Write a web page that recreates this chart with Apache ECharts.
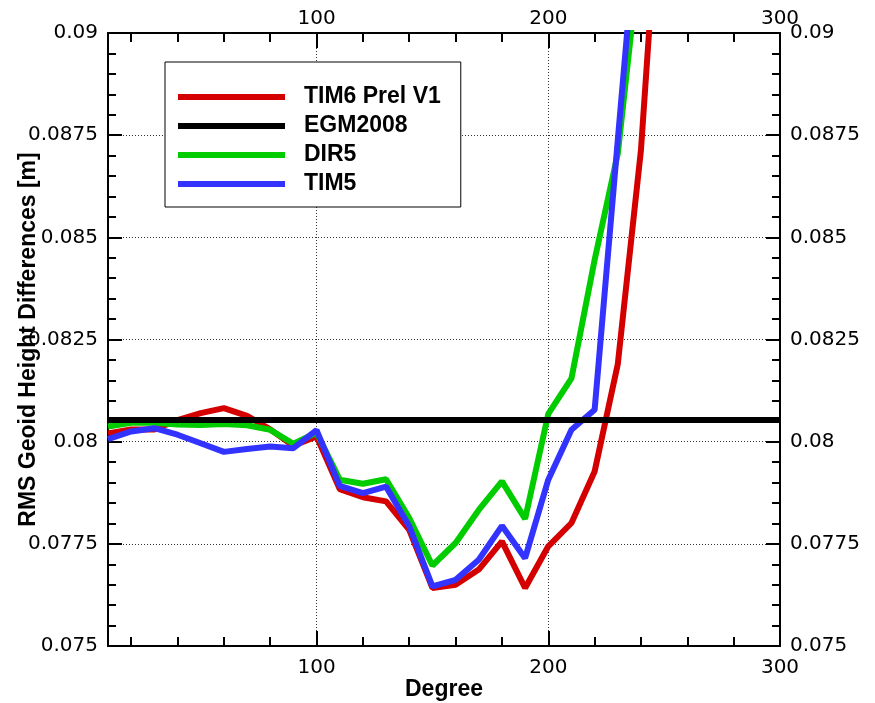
<!DOCTYPE html>
<html lang="en">
<head>
    <meta charset="UTF-8">
    <title>RMS Geoid Height Differences</title>
    <script src="https://cdn.jsdelivr.net/npm/echarts@6/dist/echarts.min.js"></script>
</head>
<body style="margin:0;background:#fff;">
<div id="main" style="width:875px;height:703px;"></div>
<script>
    // degree of the models, every 10
    var degrees = [10, 20, 30, 40, 50, 60, 70, 80, 90, 100, 110, 120, 130,
        140, 150, 160, 170, 180, 190, 200, 210, 220, 230, 240, 250];
    var tim6PrelV1 = [0.0802, 0.0803, 0.0803, 0.08053, 0.0807, 0.08082, 0.08063, 0.0803, 0.0799, 0.08013,
        0.07884, 0.07864, 0.07854, 0.07784, 0.07642, 0.0765, 0.07687, 0.07756, 0.07642, 0.07744,
        0.07801, 0.07927, 0.0819, 0.08714, 0.0954];
    var dir5 = [0.08037, 0.08046, 0.08046, 0.08042, 0.08041, 0.08043, 0.0804, 0.08029, 0.07995, 0.08022,
        0.07907, 0.07897, 0.07908, 0.07813, 0.07697, 0.07752, 0.07833, 0.07903, 0.07811, 0.08068,
        0.08155, 0.08445, 0.08705, 0.0922, null];
    var tim5 = [0.08006, 0.08025, 0.08033, 0.08017, 0.07996, 0.07975, 0.07982, 0.07988, 0.07984, 0.08028,
        0.07892, 0.07874, 0.0789, 0.07793, 0.07646, 0.07662, 0.07711, 0.07794, 0.07715, 0.07907,
        0.08029, 0.08078, 0.08738, 0.0939, null];
    // EGM2008 is a flat reference line
    var egmDegrees = [10, 300];
    var egm2008 = [0.08053, 0.08053];

    var xMajor = [100, 200, 300];
    var xMinor = [20, 40, 60, 80, 120, 140, 160, 180, 220, 240, 260, 280];

    function pairs(xs, ys) {
        var out = [];
        for (var i = 0; i < xs.length; i++) {
            if (ys[i] != null) out.push([xs[i], ys[i]]);
        }
        return out;
    }

    var tickFont = {fontFamily: 'DejaVu Sans', fontSize: 20, color: '#000'};
    var boldFont = {fontFamily: 'Liberation Sans', fontWeight: 'bold', fontSize: 23, color: '#000'};
    var blackLine = {color: '#000', width: 2};
    var gridLine = {color: '#333', width: 1, type: [1, 2]};

    function xAxisOf(pos, ticks, len, major, margin) {
        return {
            type: 'value', position: pos, min: 10, max: 300,
            axisLine: {show: major, onZero: false, lineStyle: blackLine},
            axisTick: {show: true, inside: true, length: len, customValues: ticks, lineStyle: blackLine},
            axisLabel: major ? Object.assign({customValues: xMajor, margin: margin}, tickFont) : {show: false},
            splitLine: {show: false}
        };
    }

    var bottomAxis = xAxisOf('bottom', [100, 200], 15, true, 12);
    bottomAxis.splitLine = {show: true, lineStyle: gridLine};
    bottomAxis.name = 'Degree';
    bottomAxis.nameLocation = 'middle';
    bottomAxis.nameGap = 32;
    bottomAxis.nameMoveOverlap = false;
    bottomAxis.nameTextStyle = boldFont;

    function yAxisOf(pos) {
        return {
            type: 'value', position: pos, min: 0.075, max: 0.09, interval: 0.0025,
            axisLine: {show: true, onZero: false, lineStyle: blackLine},
            axisTick: {show: true, inside: true, length: 14, lineStyle: blackLine},
            minorTick: {show: true, splitNumber: 5, length: 8, lineStyle: blackLine},
            axisLabel: Object.assign({
                margin: 10,
                formatter: function (v) { return String(+v.toFixed(5)); }
            }, tickFont),
            splitLine: {show: false}
        };
    }

    var leftAxis = yAxisOf('left');
    leftAxis.splitLine = {show: true, lineStyle: gridLine};
    leftAxis.name = 'RMS Geoid Height Differences [m]';
    leftAxis.nameLocation = 'middle';
    leftAxis.nameGap = 68;
    leftAxis.nameMoveOverlap = false;
    leftAxis.nameTextStyle = boldFont;

    var myChart = echarts.init(document.getElementById('main'));
    var option = {
        animation: false,
        backgroundColor: '#fff',
        grid: {left: 108, right: 95, top: 33, bottom: 57, containLabel: false, outerBoundsMode: 'none'},
        legend: {
            data: ['TIM6 Prel V1', 'EGM2008', 'DIR5', 'TIM5'],
            orient: 'vertical', left: 165, top: 62,
            padding: [23, 20, 11, 13], itemGap: 5,
            itemWidth: 107, itemHeight: 6, icon: 'rect',
            itemStyle: {borderWidth: 0},
            backgroundColor: '#fff', borderColor: '#000', borderWidth: 1, borderRadius: 0,
            selectedMode: false,
            textStyle: Object.assign({lineHeight: 24, padding: [0, 0, 0, 14]}, boldFont)
        },
        xAxis: [
            bottomAxis,
            xAxisOf('bottom', xMinor, 9, false, 0),
            xAxisOf('top', [100, 200], 15, true, 4),
            xAxisOf('top', xMinor, 9, false, 0)
        ],
        yAxis: [leftAxis, yAxisOf('right')],
        series: [
            {
                name: 'TIM6 Prel V1', type: 'line', showSymbol: false, symbol: 'none',
                color: '#d40000', lineStyle: {width: 6}, data: pairs(degrees, tim6PrelV1)
            },
            {
                name: 'DIR5', type: 'line', showSymbol: false, symbol: 'none',
                color: '#00cc00', lineStyle: {width: 6}, data: pairs(degrees, dir5)
            },
            {
                name: 'TIM5', type: 'line', showSymbol: false, symbol: 'none',
                color: '#3333ff', lineStyle: {width: 6}, data: pairs(degrees, tim5)
            },
            {
                name: 'EGM2008', type: 'line', showSymbol: false, symbol: 'none',
                color: '#000', lineStyle: {width: 6}, data: pairs(egmDegrees, egm2008)
            }
        ]
    };
    myChart.setOption(option);
</script>
</body>
</html>
